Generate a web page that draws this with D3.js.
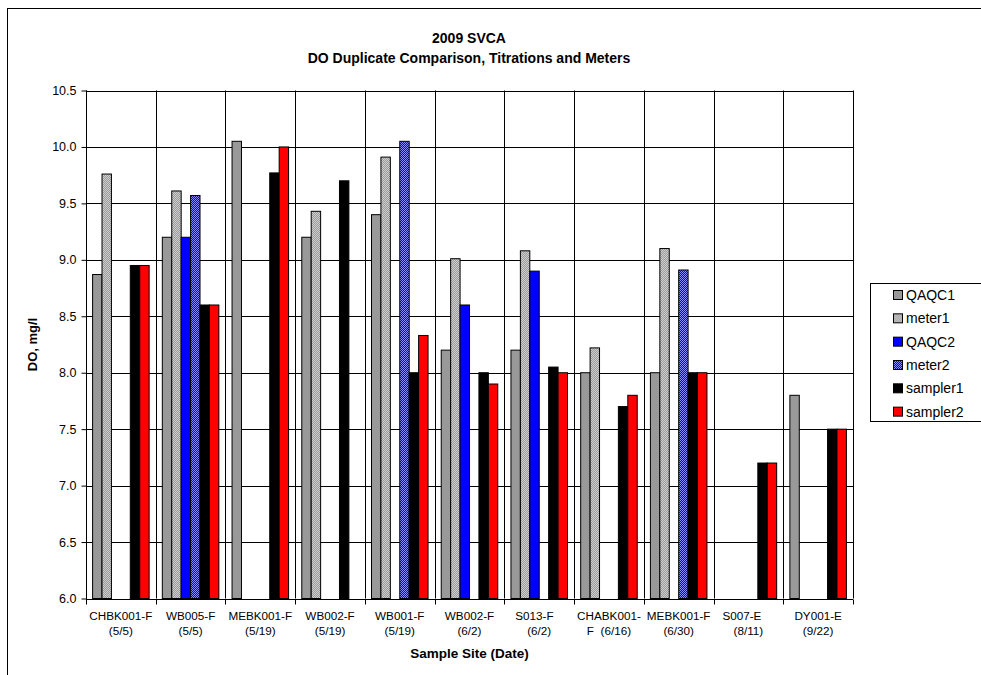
<!DOCTYPE html>
<html>
<head>
<meta charset="utf-8">
<script src="https://cdn.jsdelivr.net/npm/d3@7"></script>
<style>
  html, body { margin: 0; padding: 0; background: #fff; }
  svg { display: block; font-family: "Liberation Sans", Arial, sans-serif; }
  text { white-space: pre; }
</style>
</head>
<body>
<svg id="chart" width="981" height="675"></svg>
<script>
// ---------- data ----------
const siteNames = ["CHBK001-F", "WB005-F", "MEBK001-F", "WB002-F", "WB001-F", "WB002-F", "S013-F   ", "CHABK001-", "MEBK001-F", "S007-E    ", "DY001-E"];
const siteDates = ["(5/5)", "(5/5)", "(5/19)", "(5/19)", "(5/19)", "(6/2)", "(6/2)", "F  (6/16)", "(6/30)", "(8/11)", "(9/22)"];
const seriesNames = ["QAQC1", "meter1", "QAQC2", "meter2", "sampler1", "sampler2"];
const QAQC1    = [8.87, 9.20, 10.05, 9.20, 9.40, 8.20, 8.20, 8.00, 8.00, null, 7.80];
const meter1   = [9.76, 9.61, null, 9.43, 9.91, 9.01, 9.08, 8.22, 9.10, null, null];
const QAQC2    = [null, 9.20, null, null, null, 8.60, 8.90, null, null, null, null];
const meter2   = [null, 9.57, null, null, 10.05, null, null, null, 8.91, null, null];
const sampler1 = [8.95, 8.60, 9.77, 9.70, 8.00, 8.00, 8.05, 7.70, 8.00, 7.20, 7.50];
const sampler2 = [8.95, 8.60, 10.00, null, 8.33, 7.90, 8.00, 7.80, 8.00, 7.20, 7.50];
const yTicks = [6.0, 6.5, 7.0, 7.5, 8.0, 8.5, 9.0, 9.5, 10.0, 10.5];
const titleLines = ["2009 SVCA", "DO Duplicate Comparison, Titrations and Meters"];
const yTitle = "DO, mg/l";
const xTitle = "Sample Site (Date)";

const seriesValues = [QAQC1, meter1, QAQC2, meter2, sampler1, sampler2];
const fills = ["#999999", "url(#patGray)", "#0000ff", "url(#patBlue)", "#000000", "#ff0000"];

// ---------- layout ----------
const svg = d3.select("#chart");
const plot = { left: 86, top: 90.5, right: 853, bottom: 598.5 };

// patterns
const defs = svg.append("defs");
function checker(id, c1, c2) {
  const p = defs.append("pattern").attr("id", id).attr("patternUnits", "userSpaceOnUse")
    .attr("width", 2).attr("height", 2);
  p.append("rect").attr("width", 2).attr("height", 2).attr("fill", c1);
  p.append("rect").attr("x", 0).attr("y", 0).attr("width", 1).attr("height", 1).attr("fill", c2);
  p.append("rect").attr("x", 1).attr("y", 1).attr("width", 1).attr("height", 1).attr("fill", c2);
}
checker("patGray", "#9a9a9a", "#cfcfcf");
checker("patBlue", "#0000ff", "#8c8cff");

// outer chart frame
svg.append("rect").attr("x", 7.5).attr("y", 8.5).attr("width", 990).attr("height", 700)
  .attr("fill", "#fff").attr("stroke", "#000").attr("stroke-width", 1);

const idx = d3.range(siteNames.length);
const x0 = d3.scaleBand().domain(idx).range([plot.left, plot.right]).paddingInner(0).paddingOuter(0);
const bw = x0.bandwidth();
const off = bw * 0.7 / 7.4;
const x1 = d3.scaleBand().domain(seriesNames).range([off, bw - off]).padding(0);
const y = d3.scaleLinear().domain([6, 10.5]).range([plot.bottom, plot.top]);

// horizontal gridlines
svg.append("g").selectAll("line").data(yTicks).join("line")
  .attr("x1", plot.left).attr("x2", plot.right)
  .attr("y1", d => Math.round(y(d)) + 0.5).attr("y2", d => Math.round(y(d)) + 0.5)
  .attr("stroke", "#000").attr("stroke-width", 1);

// vertical gridlines at category boundaries
const bounds = idx.map(i => x0(i)).concat([plot.right]);
svg.append("g").selectAll("line").data(bounds).join("line")
  .attr("x1", d => Math.round(d) + 0.5).attr("x2", d => Math.round(d) + 0.5)
  .attr("y1", plot.top).attr("y2", plot.bottom)
  .attr("stroke", "#000").attr("stroke-width", 1);

// bars
const barData = [];
seriesValues.forEach((vals, si) => {
  vals.forEach((v, ci) => { if (v != null) barData.push({ s: seriesNames[si], si, ci, v }); });
});
svg.append("g").selectAll("rect").data(barData).join("rect")
  .attr("x", d => x0(d.ci) + x1(d.s))
  .attr("y", d => y(d.v))
  .attr("width", x1.bandwidth())
  .attr("height", d => plot.bottom - y(d.v))
  .attr("fill", d => fills[d.si])
  .attr("stroke", "#000").attr("stroke-width", 1);

// y axis
const yAxis = d3.axisLeft(y).tickValues(yTicks).tickFormat(d3.format(".1f")).tickSize(5).tickPadding(5);
const gy = svg.append("g").attr("transform", `translate(${Math.round(plot.left) + 0.5},0)`).call(yAxis);
gy.select(".domain").attr("stroke", "#000").attr("d", `M0,${plot.top}V${plot.bottom + 0.5}`);
gy.selectAll(".tick line").attr("stroke", "#000");
gy.selectAll("text").attr("fill", "#000").style("font-size", "12.5px")
  .style("font-family", "'Liberation Sans', Arial, sans-serif");

// x axis (ticks at category boundaries)
const gx = svg.append("g").attr("transform", `translate(0,${Math.round(plot.bottom) + 0.5})`);
gx.append("line").attr("x1", plot.left).attr("x2", plot.right).attr("stroke", "#000");
gx.selectAll("line.tk").data(bounds).join("line").attr("class", "tk")
  .attr("x1", d => Math.round(d) + 0.5).attr("x2", d => Math.round(d) + 0.5)
  .attr("y1", 0).attr("y2", 5).attr("stroke", "#000");
const lab = gx.selectAll("text").data(idx).join("text")
  .attr("text-anchor", "middle")
  .style("font-size", "11.7px").attr("fill", "#000");
lab.append("tspan").attr("x", d => x0(d) + bw / 2).attr("y", 20.5).text(d => siteNames[d]);
lab.append("tspan").attr("x", d => x0(d) + bw / 2).attr("y", 35.5).text(d => siteDates[d]);

// titles
svg.append("g").selectAll("text").data(titleLines).join("text")
  .attr("x", 469).attr("y", (d, i) => 43 + i * 20)
  .attr("text-anchor", "middle").style("font-size", "14px").style("font-weight", "bold").text(d => d);

svg.append("text").attr("transform", `translate(37,${(plot.top + plot.bottom) / 2}) rotate(-90)`)
  .attr("text-anchor", "middle").style("font-size", "13px").style("font-weight", "bold").text(yTitle);

svg.append("text").attr("x", (plot.left + plot.right) / 2).attr("y", 658)
  .attr("text-anchor", "middle").style("font-size", "13.5px").style("font-weight", "bold").text(xTitle);

// legend
const leg = svg.append("g");
leg.append("rect").attr("x", 870.5).attr("y", 283.5).attr("width", 120).attr("height", 138)
  .attr("fill", "#fff").attr("stroke", "#000");
const li = leg.selectAll("g").data(seriesNames).join("g")
  .attr("transform", (d, i) => `translate(893,${295 + i * 23.33})`);
li.append("rect").attr("x", 0.5).attr("y", -4.5).attr("width", 9).attr("height", 9)
  .attr("fill", (d, i) => fills[i]).attr("stroke", "#000");
li.append("text").attr("x", 13).attr("y", 5).style("font-size", "14px").text(d => d);
</script>
</body>
</html>
